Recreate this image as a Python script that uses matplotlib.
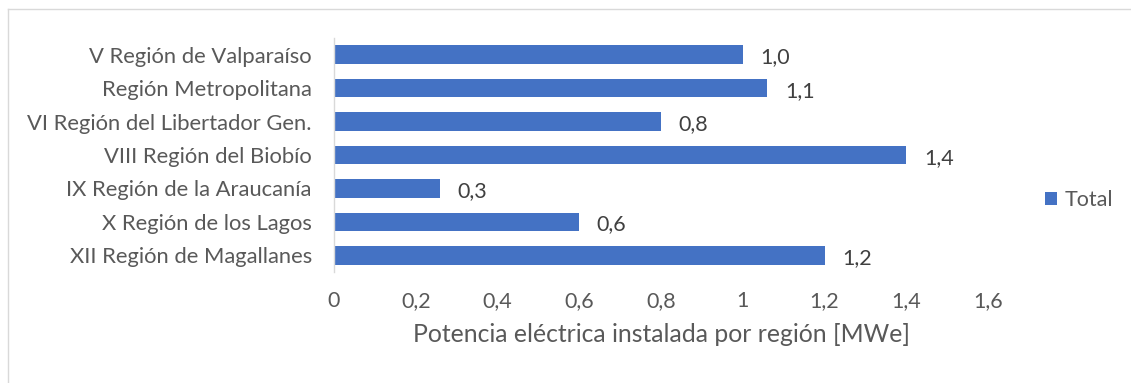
import numpy as np
import matplotlib.pyplot as plt
from matplotlib.lines import Line2D

# -----------------------------
# Data
# -----------------------------
regions = [
    "V Región de Valparaíso",
    "Región Metropolitana",
    "VI Región del Libertador Gen.",
    "VIII Región del Biobío",
    "IX Región de la Araucanía",
    "X Región de los Lagos",
    "XII Región de Magallanes",
]
power = [1.00, 1.06, 0.80, 1.40, 0.26, 0.60, 1.20]
xticks = [0, 0.2, 0.4, 0.6, 0.8, 1.0, 1.2, 1.4, 1.6]
xtick_labels = ["0", "0,2", "0,4", "0,6", "0,8", "1", "1,2", "1,4", "1,6"]

BAR_COLOR = "#4472C4"
TEXT_COLOR = "#595959"
FONT = ["Lato", "DejaVu Sans"]

plt.rcParams["font.family"] = FONT

fig = plt.figure(figsize=(11.31, 3.83), dpi=100)
ax = fig.add_axes([0.2953, 0.2898, 0.5783, 0.611])

y = np.arange(len(regions))
ax.barh(y, power, height=0.56, color=BAR_COLOR, label="Total")
ax.set_ylim(len(regions) - 0.5, -0.5)
ax.set_xlim(0, 1.6)

# data labels
for yi, v in zip(y, power):
    ax.text(v + 0.043, yi + 0.08, f"{v:.1f}".replace(".", ","), va="center", ha="left",
            fontsize=15.5, color="#404040")

ax.set_yticks(y)
ax.set_yticklabels(regions, fontsize=15.8, color=TEXT_COLOR)
ax.set_xticks(xticks)
ax.set_xticklabels(xtick_labels, fontsize=15.5, color=TEXT_COLOR)
ax.tick_params(axis="both", length=0)
ax.tick_params(axis="x", pad=14)
ax.tick_params(axis="y", pad=16)

for s in ["top", "right", "bottom"]:
    ax.spines[s].set_visible(False)
ax.spines["left"].set_color("#D9D9D9")
ax.spines["left"].set_linewidth(1.0)

ax.set_xlabel("Potencia eléctrica instalada por región [MWe]", fontsize=17.8,
              color=TEXT_COLOR, labelpad=8)

# legend
ax.legend(loc="center left", bbox_to_anchor=(1.087, 0.308), frameon=False,
          borderpad=0, borderaxespad=0,
          handlelength=0.55, handleheight=0.55, handletextpad=0.35,
          prop={"size": 15.5}, labelcolor=TEXT_COLOR)

# chart border
fig.add_artist(Line2D([8 / 1131, 8 / 1131], [0, 1 - 9 / 383], color="#D9D9D9", lw=1))
fig.add_artist(Line2D([8 / 1131, 1], [1 - 9 / 383, 1 - 9 / 383], color="#D9D9D9", lw=1))

fig.savefig("out.png", dpi=100)
